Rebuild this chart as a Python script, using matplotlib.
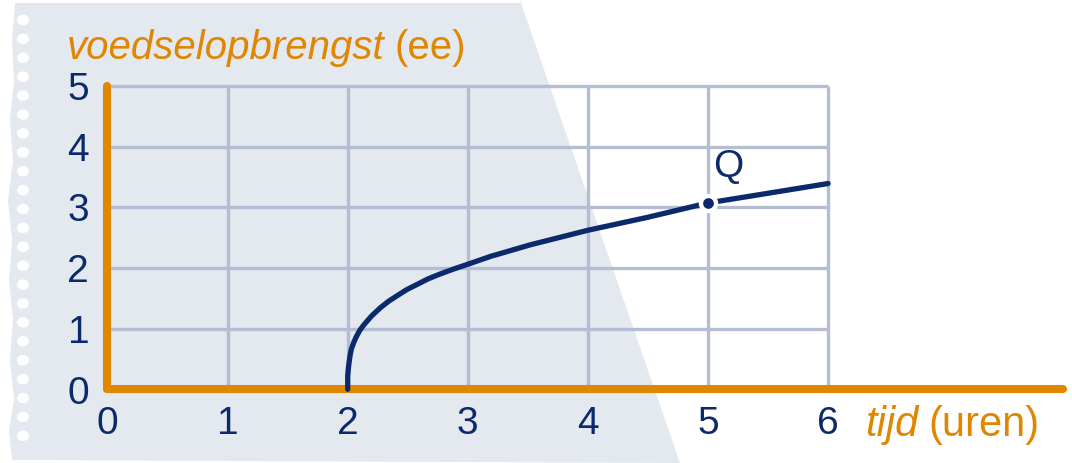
import matplotlib
matplotlib.use("Agg")
import matplotlib.pyplot as plt
from matplotlib.patches import Polygon, Ellipse

# data
x_ticks = [0, 1, 2, 3, 4, 5, 6]
y_ticks = [0, 1, 2, 3, 4, 5]
curve_x = [2.0, 2.0, 2.005, 2.01, 2.02, 2.03, 2.05, 2.07, 2.10, 2.13, 2.16,
           2.20, 2.27, 2.34, 2.41, 2.49, 2.58, 2.67, 2.77, 2.88, 3.0,
           3.19, 3.52, 4.0, 4.49, 5.0, 5.47, 6.0]
curve_y = [0.0, 0.22, 0.33, 0.42, 0.56, 0.66, 0.77, 0.86, 0.97, 1.05, 1.12,
           1.21, 1.34, 1.45, 1.54, 1.64, 1.73, 1.82, 1.90, 1.98, 2.06,
           2.19, 2.38, 2.62, 2.83, 3.07, 3.22, 3.39]
point_q = (5.0, 3.07)
x_axis_end = 7.96

ORANGE = "#E08600"
NAVY = "#0B2A6B"
GRID = "#B4BED2"
PANEL = "#E4E9F0"
FONT = "Liberation Sans"

W, H = 1072, 463
fig = plt.figure(figsize=(W / 100, H / 100), dpi=100)
fig.patch.set_facecolor("white")

# background sheet (pixel coords)
bg = fig.add_axes([0, 0, 1, 1])
bg.set_xlim(0, W)
bg.set_ylim(H, 0)
bg.axis("off")
edge = [(15, 3), (12, 40), (14, 80), (10, 120), (13, 160), (8, 200),
        (12, 240), (9, 280), (13, 320), (10, 360), (14, 400), (9, 430), (12, 460)]
sheet = [(15, 3), (520, 3), (520, 0), (680, 463), (12, 460)] + edge[::-1][1:]
bg.add_patch(Polygon(sheet, closed=True, facecolor=PANEL, edgecolor="none"))
for k in range(23):
    bg.add_patch(Ellipse((23, 20 + 18.9 * k), 12, 10.5, facecolor="white",
                         edgecolor="none"))

# chart axes mapped onto the pixel layout
ax = fig.add_axes([0, 0, 1, 1])
ax.patch.set_alpha(0)
ax.set_xlim(-107.5 / 120.1, (W - 107.5) / 120.1)
ax.set_ylim((389.3 - H) / 60.7, 389.3 / 60.7)
ax.axis("off")

ax.vlines(x_ticks[1:], 0, y_ticks[-1], color=GRID, lw=2.4, zorder=1)
ax.hlines(y_ticks[1:], 0, x_ticks[-1], color=GRID, lw=2.4, zorder=1)

ax.plot([0, x_axis_end], [0, 0], color=ORANGE, lw=5.8,
        solid_capstyle="round", zorder=2)
ax.plot([0, 0], [0, y_ticks[-1]], color=ORANGE, lw=5.8,
        solid_capstyle="round", zorder=2)

ax.plot(curve_x, curve_y, color=NAVY, lw=3.8, solid_capstyle="round",
        solid_joinstyle="round", zorder=3)
ax.plot(*point_q, "o", ms=13, color="white", zorder=4)
ax.plot(*point_q, "o", ms=6.7, color=NAVY, zorder=5)
ax.text(point_q[0] + 0.04, point_q[1] + 0.43, "Q", color=NAVY, fontsize=28,
        family=FONT, ha="left", va="baseline")

for xv in x_ticks:
    ax.text(xv, -0.736, str(xv), color=NAVY, fontsize=28, family=FONT,
            ha="center", va="baseline")
for yv in y_ticks:
    ax.text(-0.152, yv - 0.235, str(yv), color=NAVY, fontsize=28, family=FONT,
            ha="right", va="baseline")

# axis titles: italic word + upright unit
fig.canvas.draw()
r = fig.canvas.get_renderer()


def label(x_px, base_px, word, unit, size):
    t1 = fig.text(x_px / W, (H - base_px) / H, word, color=ORANGE,
                  fontsize=size, family=FONT, style="italic", va="baseline")
    bb = t1.get_window_extent(renderer=r)
    fig.text((bb.x1 + 0.25 * size * 1.389) / W, (H - base_px) / H, unit,
             color=ORANGE, fontsize=size, family=FONT, va="baseline")


label(67, 59.3, "voedselopbrengst", "(ee)", 29)
label(865, 436, "tijd", "(uren)", 30)

fig.savefig("out.png", dpi=100, facecolor="white")
